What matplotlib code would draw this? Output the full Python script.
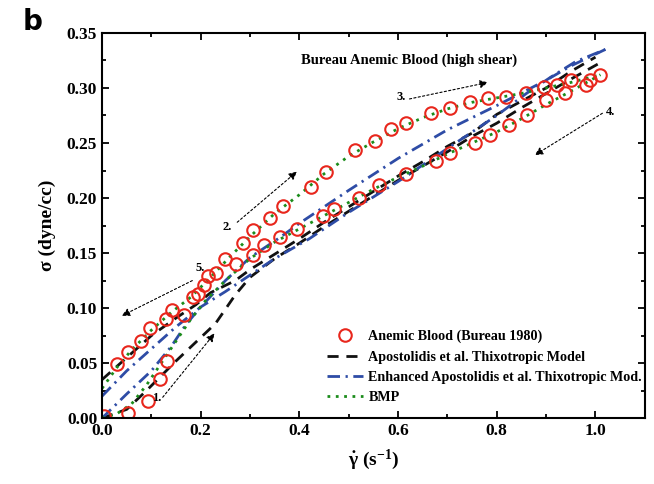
import matplotlib
matplotlib.use("Agg")
import matplotlib.pyplot as plt
from matplotlib.ticker import MultipleLocator

plt.rcParams['font.family'] = ['Liberation Serif', 'DejaVu Serif']
plt.rcParams['font.weight'] = 'bold'
plt.rcParams['mathtext.fontset'] = 'custom'
plt.rcParams['mathtext.rm'] = 'Liberation Serif:bold'
plt.rcParams['mathtext.it'] = 'Liberation Serif:bold'
plt.rcParams['mathtext.bf'] = 'Liberation Serif:bold'

# ---- data: experimental points (Bureau 1980, anemic blood) ----
circle_x = [0.004, 0.052, 0.093, 0.117, 0.131, 0.167, 0.030, 0.052, 0.078, 0.098,
            0.129, 0.141, 0.184, 0.195, 0.206, 0.215, 0.230, 0.250, 0.271, 0.286,
            0.306, 0.306, 0.328, 0.340, 0.360, 0.367, 0.396, 0.423, 0.448, 0.454,
            0.470, 0.512, 0.520, 0.554, 0.562, 0.585, 0.615, 0.617, 0.667, 0.677,
            0.706, 0.706, 0.746, 0.756, 0.782, 0.786, 0.818, 0.825, 0.859, 0.861,
            0.895, 0.899, 0.921, 0.938, 0.950, 0.980, 0.988, 1.010]
circle_y = [0.002, 0.005, 0.016, 0.036, 0.052, 0.094, 0.049, 0.060, 0.070, 0.082,
            0.090, 0.098, 0.110, 0.113, 0.121, 0.129, 0.132, 0.145, 0.140, 0.159,
            0.171, 0.148, 0.157, 0.182, 0.165, 0.193, 0.172, 0.210, 0.184, 0.224,
            0.190, 0.244, 0.200, 0.252, 0.212, 0.263, 0.222, 0.268, 0.277, 0.234,
            0.282, 0.241, 0.287, 0.250, 0.291, 0.257, 0.292, 0.266, 0.295, 0.275,
            0.301, 0.289, 0.303, 0.295, 0.307, 0.303, 0.307, 0.312]

# ---- Apostolidis et al. thixotropic model (two branches) ----
apo_a_x = [0.0, 0.04, 0.10, 0.15, 0.19, 0.22, 0.27, 0.30, 0.35, 0.40, 0.45, 0.50,
           0.55, 0.60, 0.65, 0.70, 0.75, 0.80, 0.85, 0.90, 0.95, 1.00]
apo_a_y = [0.035, 0.051, 0.075, 0.091, 0.103, 0.114, 0.125, 0.135, 0.149, 0.163, 0.178, 0.192,
           0.206, 0.220, 0.233, 0.247, 0.259, 0.276, 0.288, 0.300, 0.315, 0.328]
apo_b_x = [0.0, 0.05, 0.09, 0.15, 0.19, 0.23, 0.27, 0.30, 0.35, 0.40, 0.45, 0.50,
           0.55, 0.60, 0.65, 0.70, 0.75, 0.80, 0.85, 0.90, 0.95, 1.01]
apo_b_y = [0.0, 0.008, 0.025, 0.052, 0.069, 0.086, 0.112, 0.128, 0.145, 0.159, 0.174, 0.188,
           0.202, 0.216, 0.229, 0.242, 0.256, 0.268, 0.282, 0.295, 0.308, 0.323]

# ---- Enhanced Apostolidis et al. model (two branches) ----
enh_a_x = [0.0, 0.05, 0.10, 0.14, 0.17, 0.20, 0.25, 0.30, 0.36, 0.40, 0.45, 0.50,
           0.60, 0.70, 0.80, 0.90, 0.95, 1.02]
enh_a_y = [0.0, 0.022, 0.043, 0.065, 0.085, 0.101, 0.125, 0.146, 0.164, 0.177, 0.192, 0.207,
           0.236, 0.262, 0.284, 0.307, 0.320, 0.335]
enh_b_x = [0.0, 0.05, 0.10, 0.15, 0.20, 0.25, 0.30, 0.35, 0.42, 0.45, 0.50, 0.60,
           0.65, 0.70, 0.75, 0.80, 0.86, 0.91, 0.96, 1.02]
enh_b_y = [0.020, 0.043, 0.063, 0.083, 0.101, 0.115, 0.130, 0.145, 0.163, 0.172, 0.187, 0.215,
           0.230, 0.245, 0.260, 0.275, 0.295, 0.310, 0.324, 0.335]

# ---- BMP model (two branches) ----
bmp_a_x = [0.0, 0.03, 0.06, 0.10, 0.14, 0.18, 0.22, 0.26, 0.30, 0.35, 0.40, 0.45,
           0.50, 0.55, 0.60, 0.65, 0.70, 0.75, 0.80, 0.85, 0.90, 0.95, 1.01]
bmp_a_y = [0.027, 0.046, 0.062, 0.080, 0.096, 0.110, 0.128, 0.147, 0.165, 0.186, 0.203, 0.222,
           0.238, 0.251, 0.263, 0.273, 0.281, 0.287, 0.291, 0.295, 0.300, 0.305, 0.312]
bmp_b_x = [0.0, 0.03, 0.06, 0.09, 0.12, 0.15, 0.18, 0.21, 0.25, 0.30, 0.35, 0.40,
           0.45, 0.50, 0.55, 0.60, 0.65, 0.70, 0.75, 0.80, 0.85, 0.90, 0.95, 1.01]
bmp_b_y = [0.0, 0.004, 0.013, 0.030, 0.050, 0.070, 0.090, 0.107, 0.125, 0.145, 0.160, 0.172,
           0.184, 0.196, 0.208, 0.219, 0.229, 0.240, 0.250, 0.260, 0.272, 0.285, 0.297, 0.312]

labels = ["Anemic Blood (Bureau 1980)",
          "Apostolidis et al. Thixotropic Model",
          "Enhanced Apostolidis et al. Thixotropic Mod.",
          "BMP"]

fig = plt.figure(figsize=(6.54, 4.84), dpi=100)
ax = fig.add_axes([0.156, 0.136, 0.830, 0.796])

red = '#e8261c'
black = '#111111'
blue = '#2e4ca6'
green = '#1b8c1b'

ax.plot(apo_a_x, apo_a_y, color=black, lw=2.0, dashes=(4.0, 2.8), label=labels[1])
ax.plot(apo_b_x, apo_b_y, color=black, lw=2.0, dashes=(4.0, 2.8))
ax.plot(enh_a_x, enh_a_y, color=blue, lw=2.0, dashes=(4.5, 2.0, 0.8, 2.0), label=labels[2])
ax.plot(enh_b_x, enh_b_y, color=blue, lw=2.0, dashes=(4.5, 2.0, 0.8, 2.0))
ax.plot(bmp_a_x, bmp_a_y, color=green, lw=2.0, dashes=(1.0, 2.0), label=labels[3])
ax.plot(bmp_b_x, bmp_b_y, color=green, lw=2.0, dashes=(1.0, 2.0))
ax.plot(circle_x, circle_y, linestyle='none', marker='o', markersize=9,
        markerfacecolor='none', markeredgecolor=red, markeredgewidth=1.5, label=labels[0])

ax.set_xlim(0, 1.1)
ax.set_ylim(0, 0.35)
ax.xaxis.set_major_locator(MultipleLocator(0.2))
ax.xaxis.set_minor_locator(MultipleLocator(0.1))
ax.yaxis.set_major_locator(MultipleLocator(0.05))
ax.yaxis.set_minor_locator(MultipleLocator(0.025))
ax.xaxis.set_major_formatter(matplotlib.ticker.FormatStrFormatter('%.1f'))
ax.yaxis.set_major_formatter(matplotlib.ticker.FormatStrFormatter('%.2f'))
ax.tick_params(which='both', direction='in', top=True, right=True, width=1.3)
ax.tick_params(which='major', length=5, labelsize=12.5)
ax.tick_params(which='minor', length=3)
for lab in ax.get_xticklabels() + ax.get_yticklabels():
    lab.set_fontweight('bold')
for s in ax.spines.values():
    s.set_linewidth(1.5)

ax.set_xlabel(r'$\dot{\gamma}$ (s$^{-1}$)', fontsize=14, fontweight='bold', labelpad=6)
ax.set_ylabel('σ (dyne/cc)', fontsize=14, fontweight='bold', labelpad=8)

ax.text(0.403, 0.325, 'Bureau Anemic Blood (high shear)', fontsize=10.5, fontweight='bold',
        va='center', ha='left')
fig.text(0.035, 0.955, 'b', fontsize=20, fontweight='bold', family='DejaVu Sans', va='center')

arrow_kw = dict(arrowstyle='-|>', color='black', lw=0.8, linestyle=(0, (2, 2)),
                mutation_scale=12, shrinkA=0, shrinkB=0)
ann = [("1.", (0.111, 0.018), (0.123, 0.019), (0.228, 0.077)),
       ("2.", (0.254, 0.174), (0.274, 0.178), (0.395, 0.224)),
       ("3.", (0.607, 0.292), (0.623, 0.290), (0.782, 0.305)),
       ("4.", (1.030, 0.278), (1.014, 0.277), (0.877, 0.239)),
       ("5.", (0.198, 0.136), (0.183, 0.125), (0.040, 0.093))]
for txt, tpos, start, end in ann:
    ax.text(tpos[0], tpos[1], txt, fontsize=9, fontweight='bold', ha='center', va='center')
    ax.annotate('', xy=end, xytext=start, arrowprops=arrow_kw)

h, l = ax.get_legend_handles_labels()
order = [3, 0, 1, 2]
leg = ax.legend([h[i] for i in order], [l[i] for i in order], loc='upper left',
                bbox_to_anchor=(0.415, 0.229), frameon=False, fontsize=10.2,
                handlelength=2.5, handletextpad=0.4, labelspacing=0.5, borderpad=0,
                borderaxespad=0)
for t in leg.get_texts():
    t.set_fontweight('bold')

fig.savefig('out.png', dpi=100)
